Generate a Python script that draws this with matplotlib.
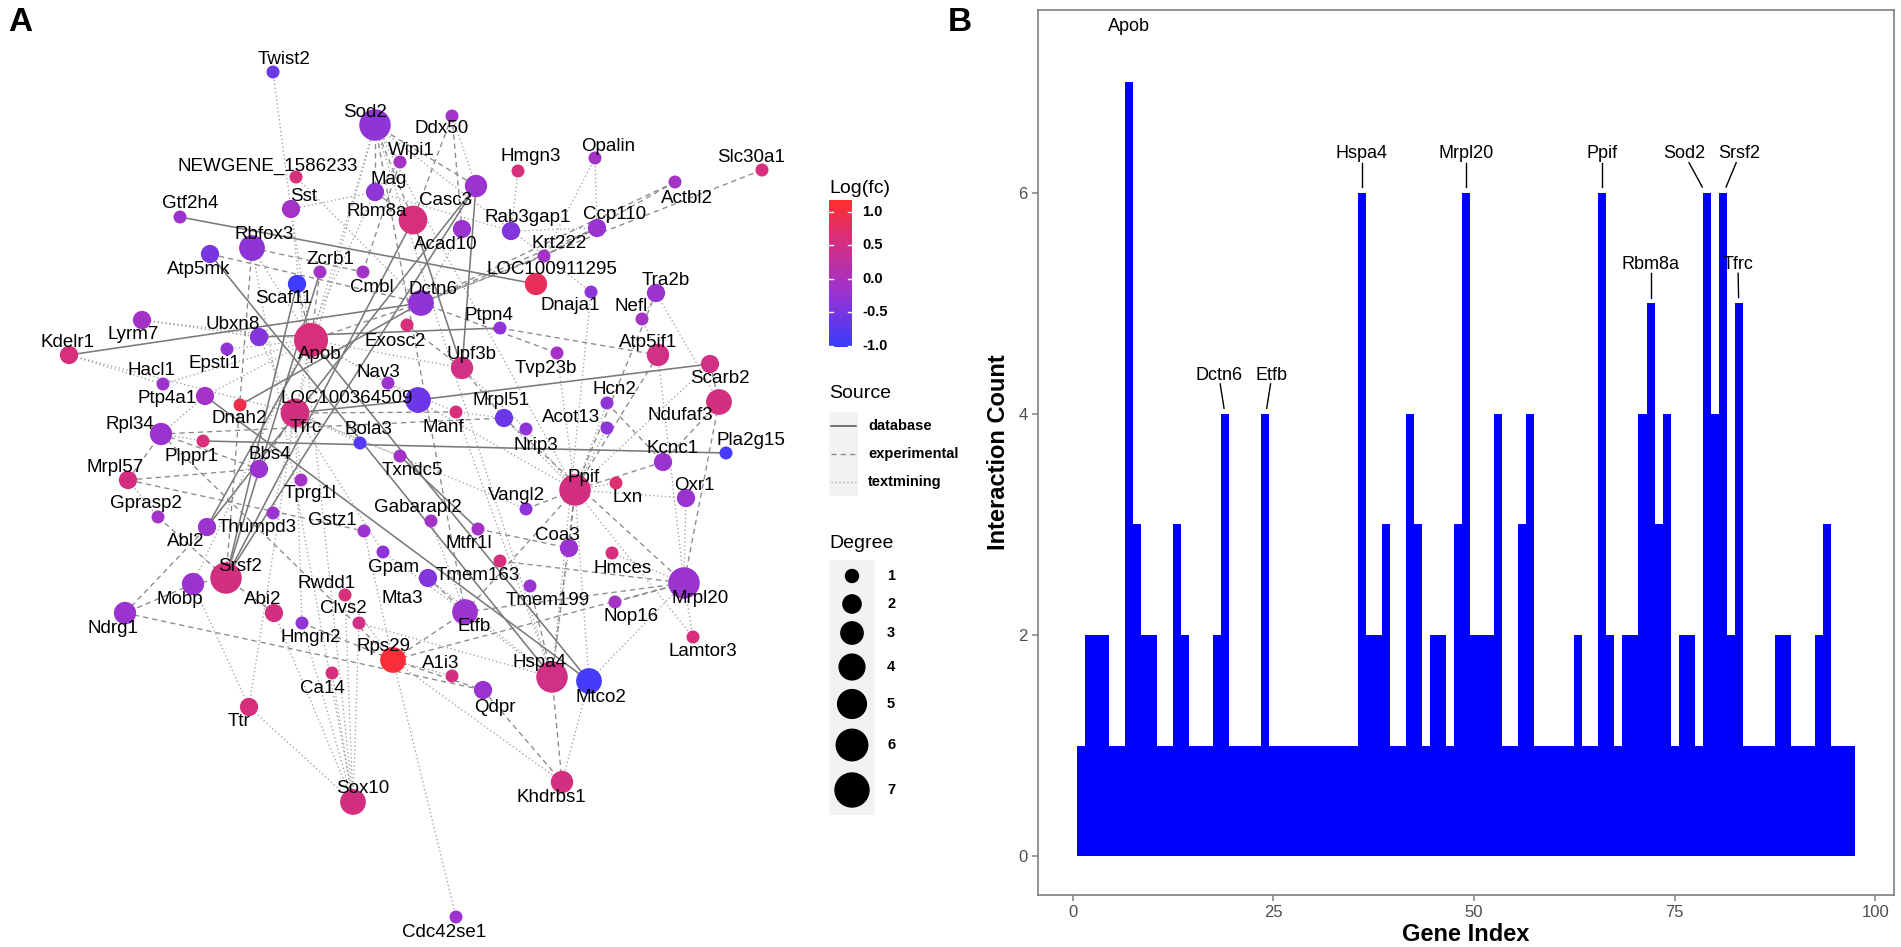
import matplotlib
matplotlib.use("Agg")
import matplotlib.pyplot as plt
import numpy as np
from matplotlib.colors import LinearSegmentedColormap, Normalize
from matplotlib.patches import Rectangle

plt.rcParams['font.family'] = ['Liberation Sans', 'DejaVu Sans']

# ---------------- Panel A: network data ----------------
gene_names = [
    "A1i3", "Abi2", "Abl2", "Acad10", "Acot13", "Actbl2", "Apob", "Atp5if1", "Atp5mk", "Bbs4",
    "Bola3", "Ca14", "Casc3", "Ccp110", "Cdc42se1", "Clvs2", "Cmbl", "Coa3", "Dctn6", "Ddx50",
    "Dnah2", "Dnaja1", "Epsti1", "Etfb", "Exosc2", "Gabarapl2", "Gpam", "Gprasp2", "Gstz1", "Gtf2h4",
    "Hacl1", "Hcn2", "Hmces", "Hmgn2", "Hmgn3", "Hspa4", "Kcnc1", "Kdelr1", "Khdrbs1", "Krt222",
    "Lamtor3", "LOC100364509", "LOC100911295", "Lxn", "Lyrm7", "Mag", "Manf", "Mobp", "Mrpl20", "Mrpl51",
    "Mrpl57", "Mta3", "Mtco2", "Mtfr1l", "Nav3", "Ndrg1", "Ndufaf3", "Nefl", "NEWGENE_1586233", "Nop16",
    "Nrip3", "Opalin", "Oxr1", "Pla2g15", "Plppr1", "Ppif", "Ptp4a1", "Ptpn4", "Qdpr", "Rab3gap1",
    "Rbfox3", "Rbm8a", "Rpl34", "Rps29", "Rwdd1", "Scaf11", "Scarb2", "Slc30a1", "Sod2", "Sox10",
    "Srsf2", "Sst", "Tfrc", "Thumpd3", "Tmem163", "Tmem199", "Tprg1l", "Tra2b", "Ttr", "Tvp23b",
    "Twist2", "Txndc5", "Ubxn8", "Upf3b", "Vangl2", "Wipi1", "Zcrb1",
]

# network layout coordinates (layout units)
layout_x = [
    452, 274, 207, 462, 607, 675, 311, 658, 210, 259,
    360, 332, 476, 597, 456, 359, 363, 569, 421, 452,
    240, 591, 227, 465, 407, 431, 383, 158, 364, 180,
    163, 607, 612, 302, 518, 552, 663, 69, 562, 544,
    693, 418, 536, 616, 142, 375, 456, 193, 684, 504,
    128, 428, 589, 478, 388, 125, 719, 642, 296, 615,
    526, 595, 686, 726, 203, 575, 205, 500, 483, 511,
    252, 413, 161, 393, 345, 297, 710, 762, 375, 353,
    226, 291, 295, 273, 500, 530, 301, 656, 249, 557,
    273, 400, 259, 462, 526, 400, 320,
]
layout_y = [
    676, 613, 527, 229, 428, 182, 340, 355, 254, 469,
    443, 673, 186, 228, 917, 623, 272, 548, 303, 116,
    405, 292, 349, 612, 325, 521, 552, 517, 531, 217,
    384, 403, 553, 623, 171, 677, 462, 355, 782, 256,
    637, 400, 284, 483, 320, 192, 412, 584, 583, 418,
    480, 578, 681, 529, 383, 613, 402, 319, 177, 602,
    429, 158, 498, 453, 441, 490, 396, 328, 690, 231,
    248, 220, 434, 660, 595, 284, 364, 170, 125, 802,
    578, 209, 413, 513, 561, 586, 480, 293, 707, 353,
    72, 456, 337, 368, 509, 162, 272,
]
# repelled label layout coordinates
label_x = [
    441, 263, 186, 446, 571, 687, 320, 648, 199, 270,
    368, 322, 446, 615, 444, 343, 372, 557, 433, 442,
    239, 570, 214, 474, 395, 418, 394, 146, 332, 190,
    151, 614, 623, 311, 531, 540, 673, 68, 551, 559,
    703, 347, 552, 628, 133, 389, 443, 180, 700, 501,
    115, 402, 601, 469, 378, 113, 680, 631, 268, 631,
    536, 608, 694, 751, 191, 584, 167, 489, 495, 528,
    264, 377, 130, 383, 327, 284, 720, 751, 365, 363,
    240, 304, 306, 257, 478, 548, 310, 666, 239, 546,
    284, 412, 233, 472, 516, 411, 330,
]
label_y = [
    663, 599, 541, 244, 417, 198, 354, 342, 269, 454,
    429, 688, 200, 214, 932, 608, 287, 535, 289, 128,
    418, 305, 363, 626, 341, 507, 567, 503, 520, 203,
    370, 389, 568, 637, 156, 662, 448, 342, 797, 243,
    651, 398, 269, 497, 334, 179, 427, 599, 598, 400,
    467, 598, 697, 543, 372, 628, 415, 306, 166, 616,
    445, 146, 485, 440, 456, 477, 398, 315, 707, 217,
    234, 211, 424, 646, 583, 298, 378, 157, 112, 788,
    566, 196, 427, 527, 575, 600, 493, 280, 721, 368,
    59, 470, 324, 354, 495, 150, 259,
]
log_fc = [
    0.55, 0.55, -0.2, -0.2, -0.3, -0.1, 0.6, 0.5, -0.5, -0.2,
    -0.8, 0.6, -0.2, -0.2, -0.2, 0.5, -0.1, -0.2, -0.3, -0.1,
    0.95, -0.3, -0.3, -0.2, 0.6, -0.1, -0.3, -0.1, -0.2, -0.2,
    -0.2, -0.3, 0.6, -0.3, 0.6, 0.5, -0.2, 0.6, 0.55, -0.1,
    0.6, -0.6, 0.85, 0.7, -0.1, -0.3, 0.6, -0.2, -0.2, -0.6,
    0.55, -0.4, -0.95, -0.1, -0.2, -0.2, 0.55, -0.1, 0.6, -0.1,
    -0.3, -0.1, -0.2, -0.95, 0.6, 0.55, -0.1, -0.3, -0.2, -0.4,
    -0.3, 0.6, -0.2, 1.1, 0.6, -1.0, 0.5, 0.6, -0.3, 0.55,
    0.55, -0.1, 0.55, -0.2, 0.6, -0.2, -0.1, -0.2, 0.6, -0.1,
    -0.6, -0.1, -0.4, 0.5, -0.3, -0.1, -0.1,
]
node_degree = [
    1, 2, 2, 2, 1, 1, 7, 3, 2, 2,
    1, 1, 3, 2, 1, 1, 1, 2, 4, 1,
    1, 1, 1, 4, 1, 1, 1, 1, 1, 1,
    1, 1, 1, 1, 1, 6, 2, 2, 3, 1,
    1, 4, 3, 1, 2, 2, 1, 3, 6, 2,
    2, 2, 4, 1, 1, 3, 4, 1, 1, 1,
    1, 1, 2, 1, 1, 6, 2, 1, 2, 2,
    4, 5, 3, 4, 1, 2, 2, 1, 6, 4,
    6, 2, 5, 1, 1, 1, 1, 2, 2, 1,
    1, 1, 2, 3, 1, 1, 1,
]

database_edges = [
    ("Gtf2h4", "LOC100911295"), ("Kdelr1", "Dctn6"), ("Ubxn8", "Ptpn4"),
    ("Tfrc", "LOC100364509"), ("LOC100364509", "Scarb2"), ("Plppr1", "Pla2g15"),
    ("Atp5mk", "Hspa4"), ("Ptp4a1", "Mtco2"), ("Apob", "Mtco2"),
    ("Rbm8a", "Srsf2"), ("Casc3", "Srsf2"), ("Zcrb1", "Srsf2"), ("Scaf11", "Srsf2"),
    ("Dnah2", "Dctn6"), ("Txndc5", "Mtfr1l"), ("Casc3", "Abl2"), ("Apob", "Abl2"),
    ("Rbm8a", "Upf3b"), ("Casc3", "Upf3b"),
]
experimental_edges = [
    ("Slc30a1", "Dctn6"), ("Actbl2", "Dctn6"), ("Ccp110", "Dctn6"), ("Krt222", "Dctn6"),
    ("Atp5mk", "Dctn6"), ("Sod2", "Rbm8a"), ("Sod2", "Casc3"), ("Sod2", "Mag"),
    ("Ddx50", "Acad10"), ("Ddx50", "Rbm8a"), ("Wipi1", "Cmbl"), ("Mag", "Rbm8a"),
    ("Rbfox3", "Cmbl"), ("Rbfox3", "Srsf2"), ("Zcrb1", "Apob"), ("Scaf11", "Apob"),
    ("Apob", "Dctn6"), ("Exosc2", "Upf3b"), ("Dctn6", "Tvp23b"), ("Ptpn4", "Atp5if1"),
    ("Atp5if1", "Ppif"), ("Scarb2", "Ndufaf3"), ("Ndufaf3", "Kcnc1"), ("Ndufaf3", "Mrpl20"),
    ("Mrpl57", "Bbs4"), ("Mrpl57", "Gstz1"), ("Rpl34", "Mrpl51"), ("Rpl34", "Rps29"),
    ("Mrpl51", "Mrpl20"), ("Rps29", "Mrpl20"), ("Ndrg1", "Qdpr"), ("Rps29", "Qdpr"),
    ("Hspa4", "Khdrbs1"), ("Hspa4", "Ppif"), ("Coa3", "Ppif"), ("Etfb", "Mrpl20"),
    ("Etfb", "Ppif"), ("Mobp", "Ndrg1"), ("Mobp", "Srsf2"), ("Gprasp2", "Srsf2"),
    ("Abi2", "Srsf2"), ("Hmgn2", "Rps29"), ("Mta3", "Etfb"), ("Tmem163", "Mrpl20"),
    ("Tmem199", "Hspa4"), ("Qdpr", "Khdrbs1"), ("Nop16", "Mrpl20"), ("Vangl2", "Ppif"),
    ("Mtfr1l", "Coa3"), ("Krt222", "Ccp110"), ("Ndrg1", "Abl2"), ("Tra2b", "Ppif"),
    ("Kcnc1", "Ppif"), ("Sod2", "Etfb"), ("Bbs4", "Tfrc"), ("Rpl34", "Bbs4"),
    ("Mrpl57", "Rpl34"), ("Tfrc", "Manf"), ("Upf3b", "Mrpl51"), ("Hcn2", "Kcnc1"),
    ("Rps29", "Etfb"), ("Actbl2", "Krt222"),
]
textmining_edges = [
    ("Twist2", "Sst"), ("NEWGENE_1586233", "Dctn6"), ("Hmgn3", "Rab3gap1"), ("Opalin", "Krt222"),
    ("Sod2", "Wipi1"), ("Sod2", "Apob"), ("Sod2", "Tfrc"), ("Sod2", "Ppif"), ("Sod2", "Hspa4"),
    ("Mag", "Mobp"), ("Sst", "Apob"), ("Sst", "Sox10"), ("Rbfox3", "Apob"), ("Rbfox3", "Sox10"),
    ("Lyrm7", "Apob"), ("Lyrm7", "Ubxn8"), ("Kdelr1", "Hacl1"), ("Kdelr1", "Tfrc"),
    ("Hacl1", "Apob"), ("Epsti1", "Apob"), ("Apob", "Tfrc"), ("Apob", "Upf3b"),
    ("Apob", "Nav3"), ("Apob", "Ppif"), ("Tfrc", "Bola3"), ("Tfrc", "Ttr"), ("Tfrc", "Hmgn2"),
    ("Tfrc", "Gpam"), ("Nav3", "Manf"), ("Manf", "Mrpl51"), ("Manf", "Hspa4"),
    ("Acot13", "Ppif"), ("Nrip3", "Ppif"), ("Nrip3", "Upf3b"), ("Tvp23b", "Ppif"),
    ("Dnaja1", "Hspa4"), ("Dnaja1", "Sod2"), ("Nefl", "Atp5if1"), ("Tra2b", "Nefl"),
    ("Tra2b", "Ndufaf3"), ("Oxr1", "Mrpl20"), ("Lxn", "Ppif"), ("Hmces", "Mrpl20"),
    ("Lamtor3", "Mrpl20"), ("Coa3", "Hspa4"), ("Gabarapl2", "Etfb"), ("Gpam", "Etfb"),
    ("Gstz1", "Rps29"), ("Rwdd1", "Sox10"), ("Clvs2", "Sox10"), ("Ca14", "Sox10"),
    ("Hmgn2", "Sox10"), ("Abi2", "Sox10"), ("Cdc42se1", "Rps29"), ("Khdrbs1", "Mtco2"),
    ("Khdrbs1", "Rps29"), ("A1i3", "Rps29"), ("Mtco2", "Mrpl20"), ("Ttr", "Mobp"),
    ("Gprasp2", "Mrpl57"), ("Plppr1", "Rpl34"), ("Ptp4a1", "Rpl34"), ("Thumpd3", "Tfrc"),
    ("Tprg1l", "Tfrc"), ("Txndc5", "Tfrc"), ("Vangl2", "Tfrc"), ("Mag", "Sst"),
    ("Wipi1", "Mag"), ("Atp5if1", "Mrpl20"), ("Scarb2", "Ppif"), ("Ddx50", "Casc3"),
    ("Ubxn8", "Tfrc"), ("Rab3gap1", "Mag"), ("Ptp4a1", "Apob"), ("Mrpl51", "Ppif"),
    ("Hcn2", "Ppif"), ("Mta3", "Hspa4"), ("Etfb", "Hspa4"), ("Ttr", "Sox10"),
    ("Mtco2", "Ppif"), ("Lamtor3", "Ppif"), ("Oxr1", "Ppif"), ("Acad10", "Dctn6"),
    ("Ccp110", "Rab3gap1"), ("Opalin", "Ccp110"), ("Rwdd1", "Rps29"), ("Clvs2", "Hspa4"),
]

# ---------------- Panel B: interaction counts ----------------
interaction_count = [
    1, 2, 2, 2, 1, 1, 7, 3, 2, 2,
    1, 1, 3, 2, 1, 1, 1, 2, 4, 1,
    1, 1, 1, 4, 1, 1, 1, 1, 1, 1,
    1, 1, 1, 1, 1, 6, 2, 2, 3, 1,
    1, 4, 3, 1, 2, 2, 1, 3, 6, 2,
    2, 2, 4, 1, 1, 3, 4, 1, 1, 1,
    1, 1, 2, 1, 1, 6, 2, 1, 2, 2,
    4, 5, 3, 4, 1, 2, 2, 1, 6, 4,
    6, 2, 5, 1, 1, 1, 1, 2, 2, 1,
    1, 1, 2, 3, 1, 1, 1,
]
hub_genes = ["Apob", "Dctn6", "Etfb", "Hspa4", "Mrpl20", "Ppif", "Rbm8a", "Sod2", "Srsf2", "Tfrc"]
hub_index = [7, 19, 24, 36, 49, 66, 72, 79, 81, 83]

# ---------------- figure ----------------
W, H = 1901, 947
fig = plt.figure(figsize=(W / 100, H / 100), dpi=100)

axA = fig.add_axes([0, 0, 1, 1])
axA.set_axis_off()

fc_min, fc_max = -1.02, 1.18
cmap = LinearSegmentedColormap.from_list(
    "fc", [(0.0, "#3c3cff"), (0.4, "#a232cc"), (0.75, "#d92f78"), (1.0, "#ff2e2e")])
norm = Normalize(fc_min, fc_max)

pos = {g: (x, y) for g, x, y in zip(gene_names, layout_x, layout_y)}

edge_styles = {
    "database": dict(color="#7a7a7a", lw=1.15, ls="-"),
    "experimental": dict(color="#8a8a8a", lw=0.95, ls=(0, (4, 3))),
    "textmining": dict(color="#a0a0a0", lw=0.95, ls=(0, (1, 2))),
}
for kind, elist in (("textmining", textmining_edges), ("experimental", experimental_edges),
                    ("database", database_edges)):
    st = edge_styles[kind]
    for a, b in elist:
        if a in pos and b in pos:
            (x1, y1), (x2, y2) = pos[a], pos[b]
            axA.plot([x1, x2], [y1, y2], color=st["color"], lw=st["lw"], ls=st["ls"],
                     zorder=1, solid_capstyle="butt")


def deg_diam(d):
    return np.sqrt(169 + 164.5 * (np.asarray(d, float) - 1))


sizes = (deg_diam(node_degree) * 0.72) ** 2
axA.scatter(layout_x, layout_y, s=sizes, c=log_fc, cmap=cmap, norm=norm,
            edgecolors="none", zorder=3)
for g, lx, ly in zip(gene_names, label_x, label_y):
    axA.text(lx, ly, g, fontsize=13.5, ha="center", va="center", color="black", zorder=5)

axA.text(8, 22, "A", fontsize=24, fontweight="bold", ha="left", va="center")
axA.text(948, 22, "B", fontsize=24, fontweight="bold", ha="left", va="center")

# --- colorbar legend ---
lx0 = 829
axA.text(lx0, 188, "Log(fc)", fontsize=14, ha="left", va="center")
cb_top, cb_bot = 200, 347
grad = np.linspace(fc_max, fc_min, 200).reshape(-1, 1)
axA.imshow(grad, cmap=cmap, norm=norm, extent=(lx0, lx0 + 23, cb_bot, cb_top),
           origin="upper", aspect="auto", zorder=2)
for v in [1.0, 0.5, 0.0, -0.5, -1.0]:
    yy = cb_bot - (v - fc_min) / (fc_max - fc_min) * (cb_bot - cb_top)
    axA.plot([lx0, lx0 + 4], [yy, yy], color="white", lw=1, zorder=3)
    axA.plot([lx0 + 19, lx0 + 23], [yy, yy], color="white", lw=1, zorder=3)
    axA.text(lx0 + 33, yy, f"{v:.1f}", fontsize=10.5, fontweight="bold", ha="left", va="center")

# --- Source legend ---
axA.text(lx0, 393, "Source", fontsize=14, ha="left", va="center")
src_rows = [("database", 426), ("experimental", 454), ("textmining", 482)]
axA.add_patch(Rectangle((lx0, 412), 29, 84, facecolor="#f2f2f2", edgecolor="none", zorder=1))
for name, yy in src_rows:
    st = edge_styles[name]
    axA.plot([lx0 + 2, lx0 + 27], [yy, yy], color="#555555" if name == "database" else st["color"],
             lw=st["lw"], ls=st["ls"], zorder=2)
    axA.text(lx0 + 39, yy, name, fontsize=10.5, fontweight="bold", ha="left", va="center")

# --- Degree legend ---
axA.text(lx0, 543, "Degree", fontsize=14, ha="left", va="center")
deg_levels = [1, 2, 3, 4, 5, 6, 7]
deg_rows = [576, 604, 633, 667, 704, 745, 790]
axA.add_patch(Rectangle((lx0, 560), 46, 255, facecolor="#f2f2f2", edgecolor="none", zorder=1))
axA.scatter([lx0 + 23] * len(deg_levels), deg_rows, s=(deg_diam(deg_levels) * 0.72) ** 2,
            color="black", zorder=2)
for d, yy in zip(deg_levels, deg_rows):
    axA.text(lx0 + 58, yy, str(d), fontsize=10.5, fontweight="bold", ha="left", va="center")

axA.set_xlim(0, W)
axA.set_ylim(H, 0)

# ---------------- Panel B ----------------
axB = fig.add_axes([1038 / W, 1 - 895 / H, 856 / W, 885 / H])
idx = np.arange(1, len(interaction_count) + 1)
axB.bar(idx, interaction_count, width=1.0, color="#0000ff", edgecolor="none", linewidth=0,
        antialiased=False)
axB.set_xlim(-4.35, 102.35)
axB.set_ylim(-0.35, 7.65)
axB.set_xticks([0, 25, 50, 75, 100])
axB.set_yticks([0, 2, 4, 6])
for sp in axB.spines.values():
    sp.set_color("#808080")
    sp.set_linewidth(1.2)
axB.tick_params(colors="#808080", labelcolor="#4d4d4d", labelsize=12, length=4, width=1.1)
axB.set_xlabel("Gene Index", fontsize=17, fontweight="bold", labelpad=2)
axB.set_ylabel("Interaction Count", fontsize=17, fontweight="bold", labelpad=6)

label_shift = [0.0, -0.8, 0.8, 0.0, 0.0, 0.0, 0.0, -2.75, 2.1, -0.1]
for g, i, dx in zip(hub_genes, hub_index, label_shift):
    v = interaction_count[i - 1]
    lx = i + dx
    ly = v + (0.5 if g == "Apob" else 0.35)
    axB.text(lx, ly, g, fontsize=13, ha="center", va="center", color="black")
    if g != "Apob":
        sx = lx + 0.2 * (i - lx)
        ex = i - 0.2 * (i - lx)
        axB.plot([sx, ex], [v + 0.27, v + 0.05], color="black", lw=1.0)

fig.savefig("out.png", dpi=100)
